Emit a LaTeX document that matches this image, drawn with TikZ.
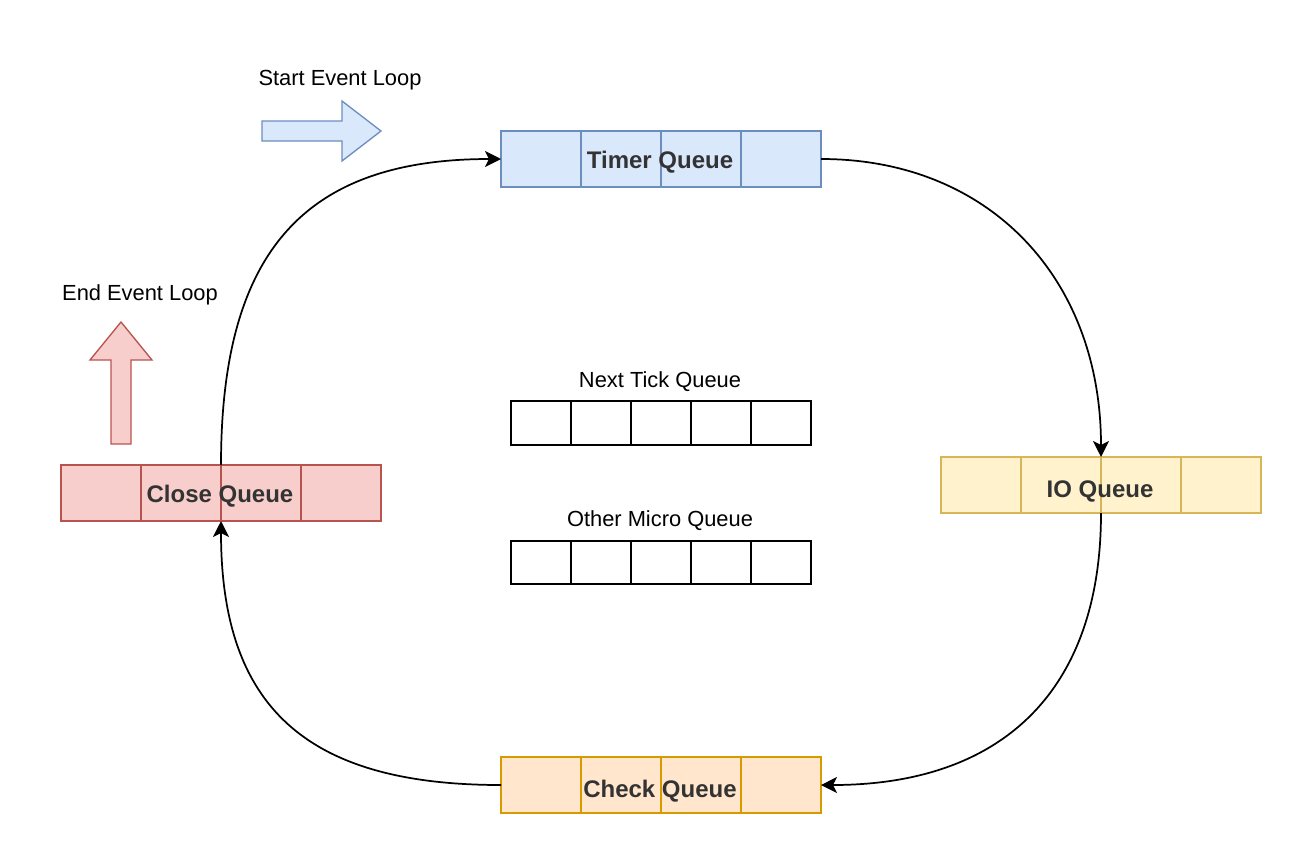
\documentclass[tikz,border=0pt]{standalone}
\usepackage{fontspec}
\setmainfont{Liberation Sans}
\usetikzlibrary{arrows.meta}
\definecolor{timerfill}{HTML}{DAE8FC}\definecolor{timerdraw}{HTML}{6C8EBF}
\definecolor{iofill}{HTML}{FFF2CC}\definecolor{iodraw}{HTML}{D6B656}
\definecolor{checkfill}{HTML}{FFE6CC}\definecolor{checkdraw}{HTML}{D79B00}
\definecolor{closefill}{HTML}{F8CECC}\definecolor{closedraw}{HTML}{B85450}
\definecolor{labelgray}{HTML}{333333}
\tikzset{
  qcell/.style={rectangle, inner sep=0pt, outer sep=0pt, minimum width=60pt, minimum height=42pt, line width=1.3pt},
  mcell/.style={rectangle, draw=black, inner sep=0pt, outer sep=0pt, minimum width=45pt, minimum height=32.5pt, line width=1.5pt},
  qlabel/.style={inner sep=0pt, anchor=base, text=labelgray, font=\fontsize{18}{21}\selectfont\bfseries},
  plabel/.style={inner sep=0pt, anchor=base, text=black, font=\fontsize{16.4}{19}\selectfont},
  flow/.style={line width=1.3pt, -{Stealth[length=12pt, width=12pt, inset=3pt]}},
  bigarrow/.style={line width=1pt, line join=miter}
}
\begin{document}
\begin{tikzpicture}[x=0.75pt, y=-0.75pt]
\useasboundingbox (0,0) rectangle (1312,850);

% Timer Queue
\foreach \i/\x in {1/541,2/621,3/701,4/781}
  \node[qcell, fill=timerfill, draw=timerdraw] (t\i) at (\x,159) {};
\node[qlabel] (tl) at (660,168) {Timer Queue};

% IO Queue
\foreach \i/\x in {1/981,2/1061,3/1141,4/1221}
  \node[qcell, fill=iofill, draw=iodraw] (i\i) at (\x,485) {};
\node[qlabel] (il) at (1100,497) {IO Queue};

% Check Queue
\foreach \i/\x in {1/541,2/621,3/701,4/781}
  \node[qcell, fill=checkfill, draw=checkdraw] (k\i) at (\x,785) {};
\node[qlabel] (kl) at (660,797) {Check Queue};

% Close Queue
\foreach \i/\x in {1/101,2/181,3/261,4/341}
  \node[qcell, fill=closefill, draw=closedraw] (c\i) at (\x,493) {};
\node[qlabel] (cl) at (220,502) {Close Queue};

% Micro queues
\foreach \i/\x in {1/541,2/601,3/661,4/721,5/781}
  \node[mcell] (n\i) at (\x,423) {};
\node[plabel] (nl) at (660,387) {Next Tick Queue};
\foreach \i/\x in {1/541,2/601,3/661,4/721,5/781}
  \node[mcell] (o\i) at (\x,562.5) {};
\node[plabel] (ol) at (660,526) {Other Micro Queue};

% Start / End labels and arrows
\node[plabel] (sl) at (340,85) {Start Event Loop};
\draw[bigarrow, fill=timerfill, draw=timerdraw]
  (262,121) -- (342,121) -- (342,101) -- (381,131) -- (342,161) -- (342,141) -- (262,141) -- cycle;
\node[plabel] (el) at (140,300) {End Event Loop};
\draw[bigarrow, fill=closefill, draw=closedraw]
  (111,444) -- (111,360) -- (90,360) -- (121,322) -- (152,360) -- (131,360) -- (131,444) -- cycle;

% Connectors
\draw[flow] (c2.north east) .. controls +(0,-214) and +(-196,0) .. (t1.west);
\draw[flow] (t4.east) .. controls +(168,0) and +(0,-179) .. (i2.north east);
\draw[flow] (i2.south east) .. controls +(0,177) and +(182,0) .. (k4.east);
\draw[flow] (k1.west) .. controls +(-196,0) and +(0,185) .. (c2.south east);
\end{tikzpicture}
\end{document}
